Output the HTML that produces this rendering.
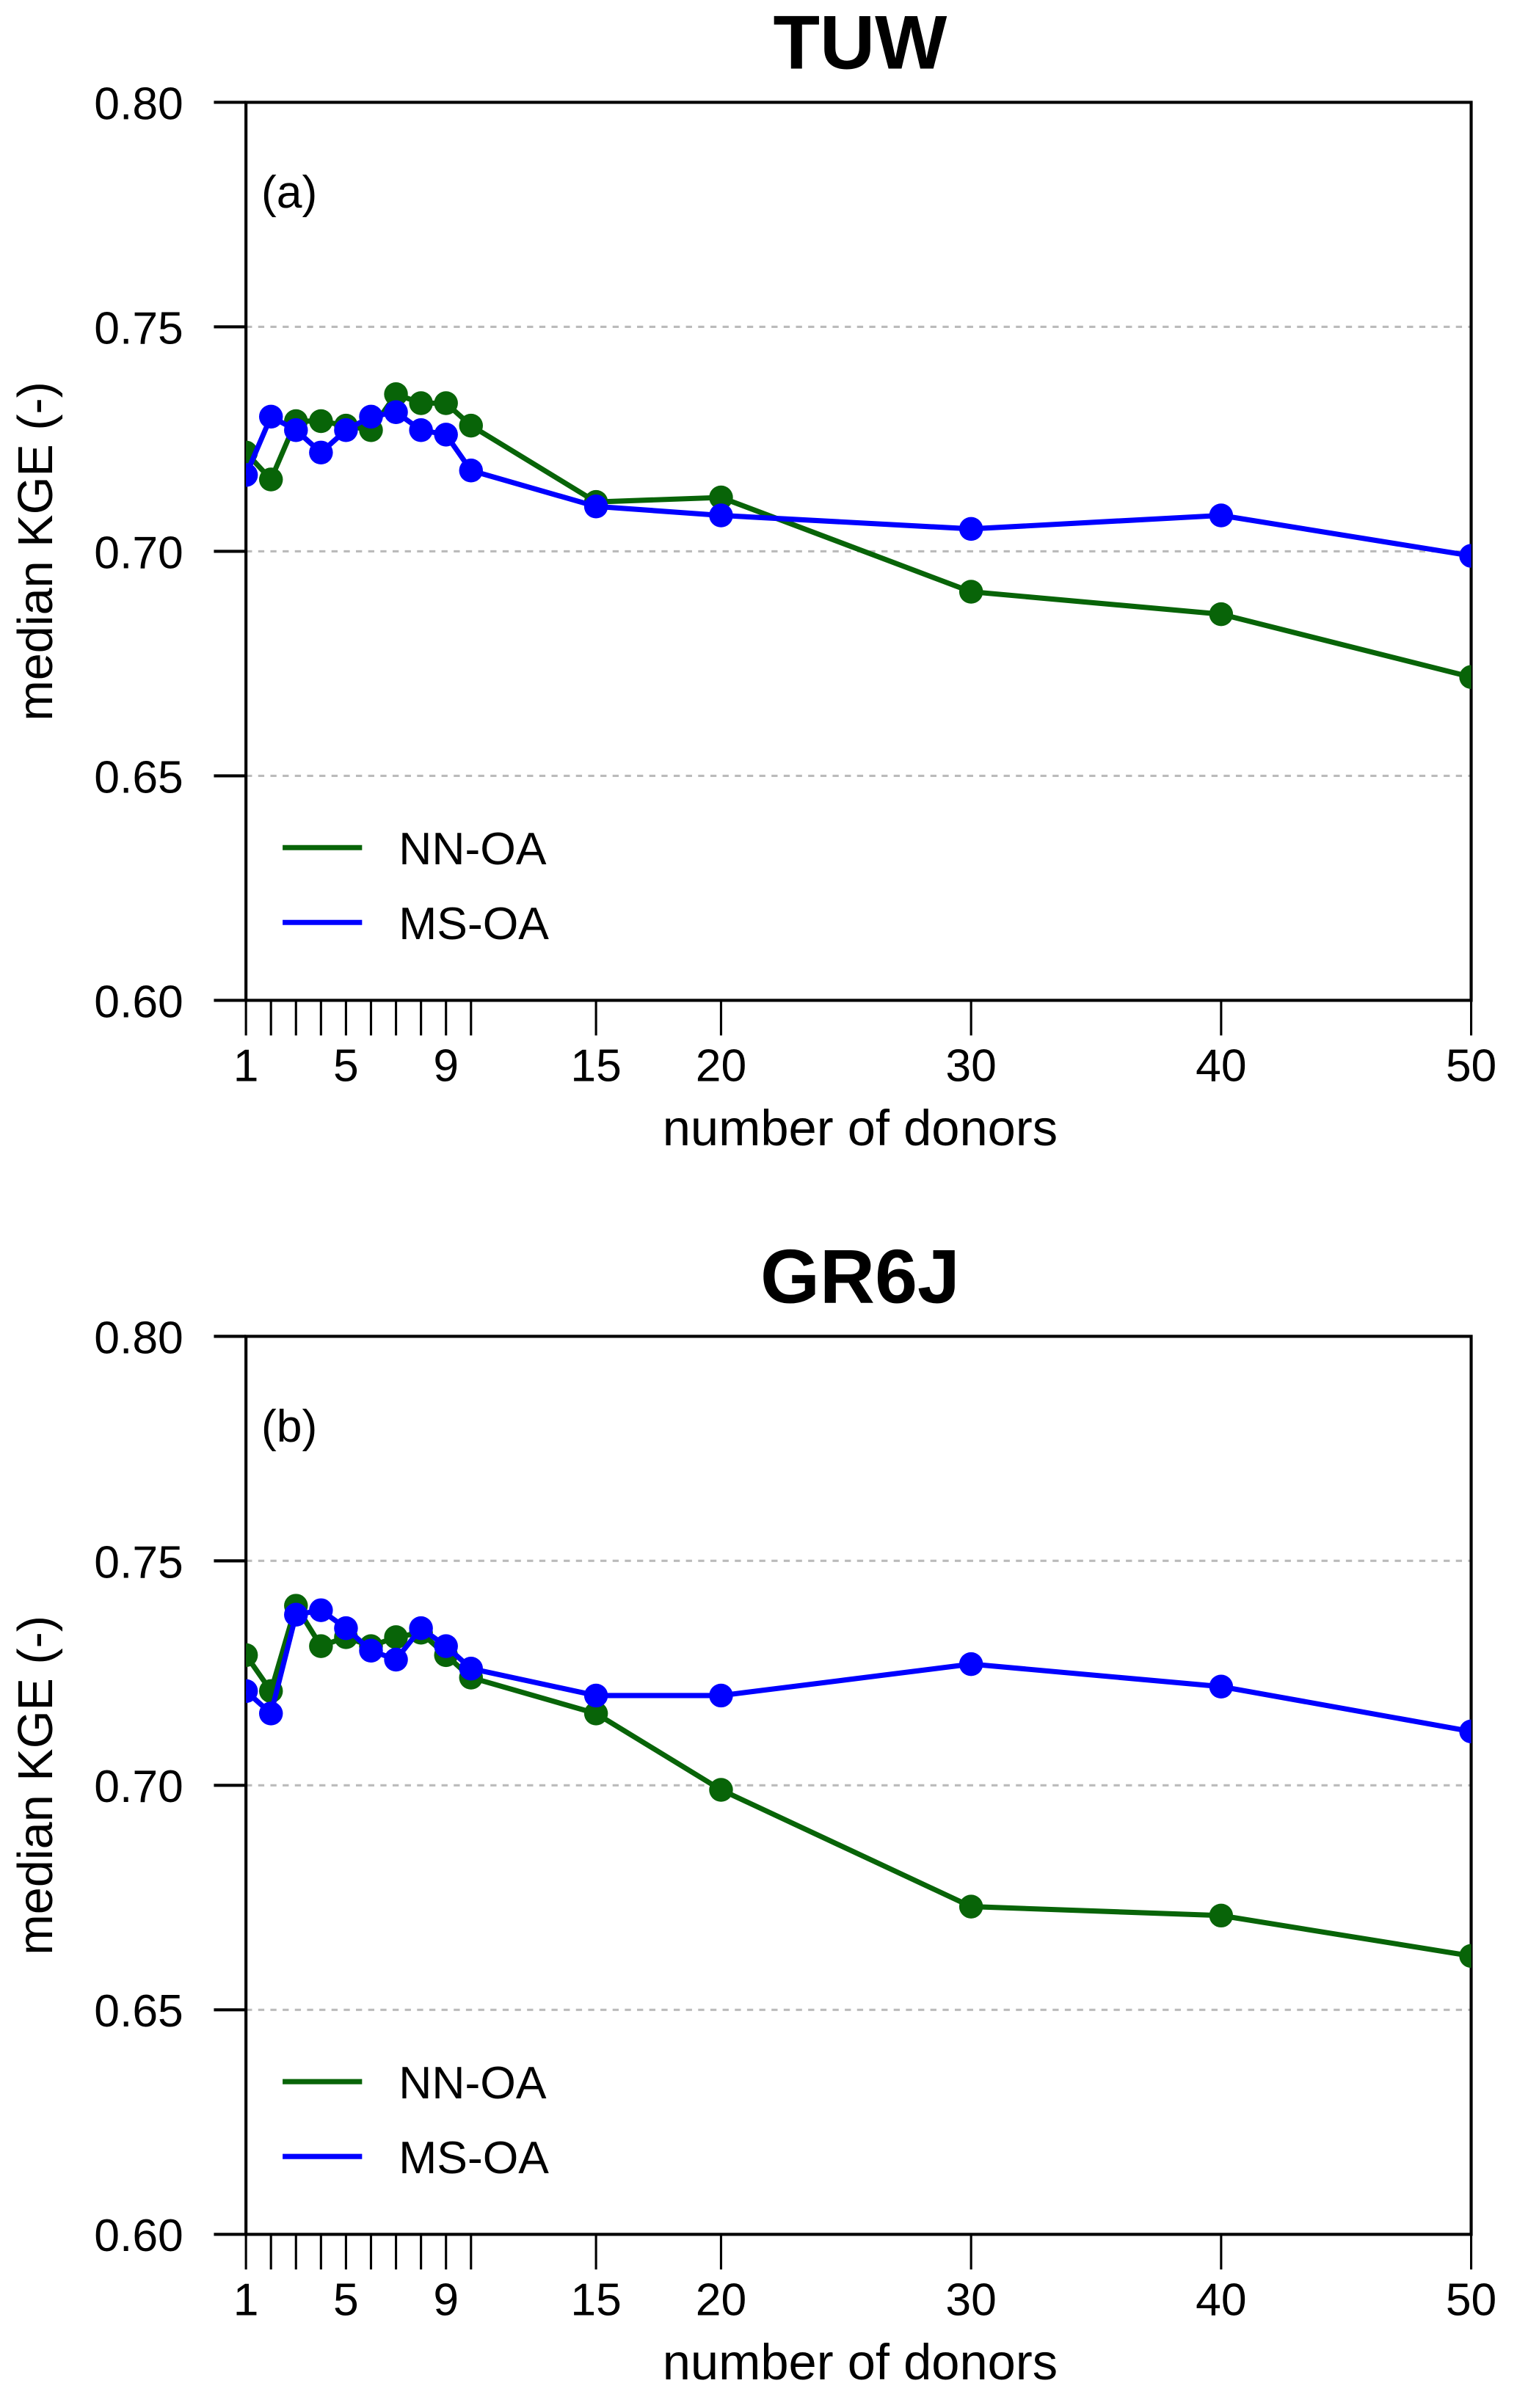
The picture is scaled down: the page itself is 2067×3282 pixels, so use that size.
<!DOCTYPE html>
<html><head><meta charset="utf-8"><style>
html,body{margin:0;padding:0;background:#fff}
svg{display:block}
text{font-family:"Liberation Sans",Arial,sans-serif;fill:#000}
</style></head><body>
<svg id="chart" width="2067" height="3282" viewBox="0 0 993 1576.7" xmlns="http://www.w3.org/2000/svg"></svg>
<script>
const donors = [1,2,3,4,5,6,7,8,9,10,15,20,30,40,50];
const tuwNN = [0.722,0.716,0.729,0.729,0.728,0.727,0.735,0.733,0.733,0.728,0.711,0.712,0.691,0.686,0.672];
const tuwMS = [0.717,0.730,0.727,0.722,0.727,0.730,0.731,0.727,0.726,0.718,0.710,0.708,0.705,0.708,0.699];
const grNN = [0.729,0.721,0.740,0.731,0.733,0.731,0.733,0.734,0.729,0.724,0.716,0.699,0.673,0.671,0.662];
const grMS = [0.721,0.716,0.738,0.739,0.735,0.730,0.728,0.735,0.731,0.726,0.720,0.720,0.727,0.722,0.712];
const yTicks = [0.60,0.65,0.70,0.75,0.80];
const xTickLabels = [1,5,9,15,20,30,40,50];
const xTicks = [1,2,3,4,5,6,7,8,9,10,15,20,30,40,50];

const NS="http://www.w3.org/2000/svg";
const svg=document.getElementById('chart');
function mk(tag,attrs,parent){const e=document.createElementNS(NS,tag);for(const k in attrs)e.setAttribute(k,attrs[k]);(parent||svg).appendChild(e);return e;}

function panel(top,title,tag,nn,ms,key){
  const L=161,R=963,T=top,B=top+588;
  const g=mk('g',{});
  
  
  const xs=v=>L+(v-1)*(R-L)/49;
  const ys=v=>B-(v-0.60)*(B-T)/0.20;
  const t=mk('text',{x:563,y:T-22,'text-anchor':'middle','font-size':50,'font-weight':'bold'},g);t.textContent=title;
  
  
  [0.65,0.70,0.75].forEach(v=>{const l=mk('line',{x1:L,x2:R,y1:ys(v),y2:ys(v),stroke:'#bbb','stroke-width':1.5,'stroke-dasharray':'4,4'},g);
    
    });
  const box=mk('rect',{x:L,y:T,width:R-L,height:B-T,fill:'none',stroke:'#000','stroke-width':2},g);
  
  
  yTicks.forEach(v=>{mk('line',{x1:L-21,x2:L,y1:ys(v),y2:ys(v),stroke:'#000','stroke-width':2},g);
    const tx=mk('text',{x:120,y:ys(v)+11,'text-anchor':'end','font-size':30},g);tx.textContent=v.toFixed(2);
    
    });
  xTicks.forEach(v=>mk('line',{x1:xs(v),x2:xs(v),y1:B,y2:B+23,stroke:'#000','stroke-width':1.5},g));
  xTickLabels.forEach(v=>{const tx=mk('text',{x:xs(v),y:B+53,'text-anchor':'middle','font-size':30},g);tx.textContent=v;
    
    });
  const xl=mk('text',{x:563,y:B+95,'text-anchor':'middle','font-size':33},g);xl.textContent='number of donors';
  
  
  const yl=mk('text',{x:0,y:0,'text-anchor':'middle','font-size':32,transform:`translate(34,${(T+B)/2}) rotate(-90)`},g);yl.textContent='median KGE (-)';
  
  
  const pl=mk('text',{x:171,y:T+69,'font-size':30},g);pl.textContent=tag;
  
  
  const clip=mk('clipPath',{id:'c'+key},g);mk('rect',{x:L,y:T,width:R-L,height:B-T},clip);
  const dg=mk('g',{'clip-path':`url(#c${key})`},g);
  [[nn,'#086408','nn-oa'],[ms,'#0000ff','ms-oa']].forEach(([arr,c,n])=>{
    const p=mk('polyline',{points:arr.map((v,i)=>xs(donors[i])+','+ys(v)).join(' '),fill:'none',stroke:c,'stroke-width':3.4},dg);
    
    
    arr.forEach((v,i)=>{const cc=mk('circle',{cx:xs(donors[i]),cy:ys(v),r:7.8,fill:c},dg);
      
      });
  });
  [['NN-OA','#086408',T+488],['MS-OA','#0000ff',T+537]].forEach(([lab,c,y])=>{
    const lg=mk('g',{},g);
    
    
    mk('line',{x1:185,x2:237,y1:y,y2:y,stroke:c,'stroke-width':3.4},lg);
    const tx=mk('text',{x:261,y:y+11,'font-size':30},lg);tx.textContent=lab;
  });
}
panel(67,'TUW','(a)',tuwNN,tuwMS,'tuw');
panel(875,'GR6J','(b)',grNN,grMS,'gr6j');
</script>
</body></html>
